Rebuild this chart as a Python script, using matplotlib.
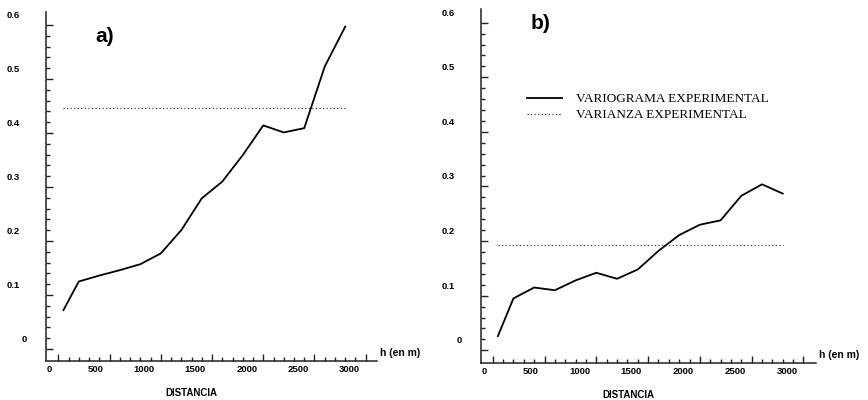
import matplotlib
matplotlib.use('Agg')
import matplotlib.pyplot as plt
from matplotlib.transforms import offset_copy

# Experimental variograms (lag distance in m vs. semivariance)
lags = [50, 200, 400, 600, 800, 1000, 1200, 1400, 1600, 1800, 2000, 2200, 2400, 2600, 2800]
gamma_a = [0.072, 0.125, 0.136, 0.146, 0.157, 0.177, 0.220, 0.279, 0.310, 0.359,
           0.414, 0.401, 0.409, 0.523, 0.597]
gamma_b = [0.026, 0.095, 0.115, 0.110, 0.128, 0.142, 0.131, 0.148, 0.182, 0.211,
           0.230, 0.238, 0.283, 0.304, 0.287]
var_a = 0.447
var_b = 0.192

x_ticks = [0, 500, 1000, 1500, 2000, 2500, 3000]
x_labels = ['0', '500', '1000', '1500', '2000', '2500', '3000']
y_ticks = [0.0, 0.1, 0.2, 0.3, 0.4, 0.5, 0.6]
y_labels = ['0', '0.1', '0.2', '0.3', '0.4', '0.5', '0.6']

W, H = 868, 400
fig = plt.figure(figsize=(W / 100, H / 100), dpi=100)


def box(left, top, right, bottom):
    return [left / W, (H - bottom) / H, (right - left) / W, (bottom - top) / H]


ax_a = fig.add_axes(box(46, 12, 376.7, 361))
ax_b = fig.add_axes(box(481, 9.3, 815.7, 363.3))

tick_font = dict(family='Liberation Sans', weight='bold', size=6.8)
dotted = (0, (1, 2.2))


def setup(ax, xlim, ylim, tag, tag_xy):
    ax.set_xlim(*xlim)
    ax.set_ylim(*ylim)
    for s in ['top', 'right']:
        ax.spines[s].set_visible(False)
    for s in ['left', 'bottom']:
        ax.spines[s].set_linewidth(1.1)
        ax.spines[s].set_color('#222222')
    ax.set_xticks(x_ticks)
    ax.set_xticks(range(0, 3001, 100), minor=True)
    ax.set_yticks(y_ticks)
    ax.set_yticks([i / 50 for i in range(31)], minor=True)
    ax.tick_params(which='both', direction='in', width=1.0, color='#222222',
                   labelleft=False, labelbottom=False)
    ax.tick_params(which='major', length=5)
    ax.tick_params(which='minor', length=2.8)

    # labels sit slightly off their ticks, as in the original plotting program
    for v, lab in zip(x_ticks, x_labels):
        tr = offset_copy(ax.get_xaxis_transform(), fig=fig, x=-6, y=-8.5, units='dots')
        ax.text(v, 0, lab, transform=tr, ha='right', va='center', **tick_font)
    for v, lab in zip(y_ticks, y_labels):
        dx = -19 if lab == '0' else -26
        tr = offset_copy(ax.get_yaxis_transform(), fig=fig, x=dx, y=9.5, units='dots')
        ax.text(0, v, lab, transform=tr, ha='right', va='center', **tick_font)

    ax.annotate('h (en m)', xy=(1, 0), xycoords='axes fraction',
                xytext=(3, 8), textcoords='offset pixels', ha='left', va='center',
                family='Liberation Sans', weight='bold', size=7.5)
    ax.annotate('DISTANCIA', xy=(0.44, 0), xycoords='axes fraction',
                xytext=(0, -31.5), textcoords='offset pixels', ha='center', va='center',
                family='Liberation Sans', weight='bold', size=7)
    ax.text(tag_xy[0], tag_xy[1], tag, ha='center', va='center',
            family='Liberation Sans', weight='bold', size=15)


setup(ax_a, (-120, 3107), (-0.0222, 0.624), 'a)', (456, 0.578))
setup(ax_b, (-113, 3118), (-0.0238, 0.6245), 'b)', (463, 0.599))

ax_a.plot(lags, gamma_a, color='black', lw=1.3)
ax_a.plot([lags[0], lags[-1]], [var_a, var_a], color='#222222', lw=0.8, linestyle=dotted)

l1, = ax_b.plot(lags, gamma_b, color='black', lw=1.3)
l2, = ax_b.plot([lags[0], lags[-1]], [var_b, var_b], color='#222222', lw=0.8, linestyle=dotted)

fig.legend([l1, l2], ['VARIOGRAMA EXPERIMENTAL', 'VARIANZA EXPERIMENTAL'],
           loc='upper left', bbox_to_anchor=(526.7 / W, (H - 93) / H),
           frameon=False, borderpad=0, borderaxespad=0, handlelength=2.7,
           handletextpad=1.05, labelspacing=0.3,
           prop=dict(family='Liberation Serif', size=9.5))

fig.savefig('out.png', dpi=100)
